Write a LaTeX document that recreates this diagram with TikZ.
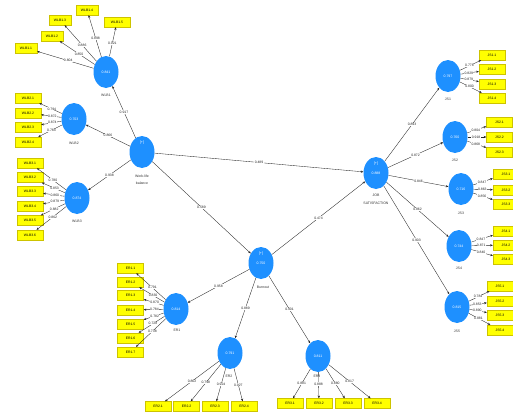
\documentclass[tikz,border=0pt]{standalone}
\usepackage{fontspec}
\setmainfont{Liberation Sans}
\usetikzlibrary{shapes.geometric,arrows.meta}
\definecolor{lvblue}{RGB}{30,144,255}
\definecolor{indy}{RGB}{255,255,0}
\definecolor{indb}{RGB}{205,195,0}
\begin{document}
\begin{tikzpicture}[x=1pt,y=-1pt,
 lv/.style={ellipse, fill=lvblue, minimum width=25pt, minimum height=32pt, inner sep=0pt, text=white, font=\fontsize{3.5}{4}\selectfont},
 lvt/.style={text=white, inner sep=0pt, font=\fontsize{3.5}{4}\selectfont},
 ind/.style={rectangle, fill=indy, draw=indb, line width=0.4pt, minimum width=26pt, minimum height=10pt, inner sep=0pt, font=\fontsize{3.4}{4}\selectfont},
 indsm/.style={ind, minimum width=22pt},
 lbl/.style={inner sep=0pt, font=\fontsize{3.5}{4}\selectfont, text=black!80},
 arr/.style={-{Stealth[length=2.6pt,width=2.2pt]}, line width=0.35pt, draw=black!85},
 coef/.style={fill=white, inner sep=0.4pt, font=\fontsize{3.4}{4}\selectfont, text=black!85},
]
\useasboundingbox[fill=white] (0,0) rectangle (513,415);

% ---------- latent variables ----------
\node[lv] (wlb) at (142,152) {};
\node[lvt] at ([yshift=9pt]wlb.center) {[+]};
\node[lbl] (wlbl) at (142,176) {Work-life};
\node[lbl] (wlbl2) at (142,183) {balance};

\node[lv] (wlb1) at (106,72) {0.841};
\node[lbl] (wlb1l) at (106,95) {WLB1};
\node[lv] (wlb2) at (74,119) {0.703};
\node[lbl] (wlb2l) at (74,143) {WLB2};
\node[lv] (wlb3) at (77,198) {0.874};
\node[lbl] (wlb3l) at (77,221) {WLB3};

\node[lv] (js) at (376,173) {0.888};
\node[lvt] at ([yshift=9pt]js.center) {[+]};
\node[lbl] (jsl) at (376,195.5) {JOB};
\node[lbl] (jsl2) at (376,203) {SATISFACTION};

\node[lv] (js1) at (448,76) {0.797};
\node[lbl] (js1l) at (448,99) {JS1};
\node[lv] (js2) at (455,137) {0.760};
\node[lbl] (js2l) at (455,160) {JS2};
\node[lv] (js3) at (461,189) {0.716};
\node[lbl] (js3l) at (461,213) {JS3};
\node[lv] (js4) at (459,246) {0.744};
\node[lbl] (js4l) at (459,268) {JS4};
\node[lv] (js5) at (457,307) {0.815};
\node[lbl] (js5l) at (457,331) {JS5};

\node[lv] (bo) at (261,263) {0.750};
\node[lvt] at ([yshift=9pt]bo.center) {[+]};
\node[lbl] (bol) at (263,287) {Burnout};

\node[lv] (er1) at (176,309) {0.814};
\node[lbl] (er1l) at (177,330) {ER1};
\node[lv] (er2) at (230,353) {0.791};
\node[lbl] (er2l) at (229,376) {ER2};
\node[lv] (er3) at (318,356) {0.811};
\node[lbl] (er3l) at (317,376) {ER3};

% ---------- indicators ----------
\node[indsm] (w11) at (26,48) {WLB1.1};
\node[indsm] (w12) at (52,36) {WLB1.2};
\node[indsm] (w13) at (60,20) {WLB1.3};
\node[indsm] (w14) at (87,10) {WLB1.4};
\node[ind] (w15) at (117,22) {WLB1.5};

\node[ind] (w21) at (28,98) {WLB2.1};
\node[ind] (w22) at (28,113) {WLB2.2};
\node[ind] (w23) at (28,127) {WLB2.3};
\node[ind] (w24) at (28,142) {WLB2.4};

\node[ind] (w31) at (30,163) {WLB3.1};
\node[ind] (w32) at (30,177.5) {WLB3.2};
\node[ind] (w33) at (30,191.5) {WLB3.3};
\node[ind] (w34) at (30,206) {WLB3.4};
\node[ind] (w35) at (30,220.5) {WLB3.5};
\node[ind] (w36) at (30,235) {WLB3.6};

\node[ind] (j11) at (492,55) {JS1.1};
\node[ind] (j12) at (492,69.5) {JS1.2};
\node[ind] (j13) at (492,84) {JS1.3};
\node[ind] (j14) at (492,98) {JS1.4};

\node[ind] (j21) at (499.5,122) {JS2.1};
\node[ind] (j22) at (499.5,137) {JS2.2};
\node[ind] (j23) at (499.5,152) {JS2.3};

\node[ind] (j31) at (506,174) {JS3.1};
\node[ind] (j32) at (506,190) {JS3.2};
\node[ind] (j33) at (506,204) {JS3.3};

\node[ind] (j41) at (506,231) {JS4.1};
\node[ind] (j42) at (506,245) {JS4.2};
\node[ind] (j43) at (506,259.5) {JS4.3};

\node[ind] (j51) at (500,286) {JS5.1};
\node[ind] (j52) at (500,301) {JS5.2};
\node[ind] (j53) at (500,315) {JS5.3};
\node[ind] (j54) at (500,330) {JS5.4};

\node[ind] (e11) at (130.5,268) {ER1.1};
\node[ind] (e12) at (130.5,282) {ER1.2};
\node[ind] (e13) at (130.5,295.5) {ER1.3};
\node[ind] (e14) at (130.5,310) {ER1.4};
\node[ind] (e15) at (130.5,324) {ER1.5};
\node[ind] (e16) at (130.5,338) {ER1.6};
\node[ind] (e17) at (130.5,352) {ER1.7};

\node[ind] (e21) at (158,406.5) {ER2.1};
\node[ind] (e22) at (186.5,406.5) {ER2.2};
\node[ind] (e23) at (215,406.5) {ER2.3};
\node[ind] (e24) at (244,406.5) {ER2.4};

\node[ind] (e31) at (290,403.5) {ER3.1};
\node[ind] (e32) at (319,403.5) {ER3.2};
\node[ind] (e33) at (348,403.5) {ER3.3};
\node[ind] (e34) at (377,403.5) {ER3.4};

% ---------- structural paths ----------
\draw[arr] (wlb) -- node[coef] {0.917} (wlb1);
\draw[arr] (wlb) -- node[coef] {0.866} (wlb2);
\draw[arr] (wlb) -- node[coef] {0.938} (wlb3);
\draw[arr] (wlb) -- node[coef] {0.489} (js);
\draw[arr] (wlb) -- node[coef] {0.589} (bo);
\draw[arr] (bo) -- node[coef] {0.474} (js);
\draw[arr] (bo) -- node[coef] {0.958} (er1);
\draw[arr] (bo) -- node[coef] {0.889} (er2);
\draw[arr] (bo) -- node[coef] {0.901} (er3);
\draw[arr] (js) -- node[coef] {0.893} (js1);
\draw[arr] (js) -- node[coef] {0.872} (js2);
\draw[arr] (js) -- node[coef] {0.846} (js3);
\draw[arr] (js) -- node[coef] {0.862} (js4);
\draw[arr] (js) -- node[coef] {0.903} (js5);

% ---------- loadings ----------
\draw[arr] (wlb1) -- node[coef,pos=0.45] {0.804} (w11);
\draw[arr] (wlb1) -- node[coef,pos=0.45] {0.850} (w12);
\draw[arr] (wlb1) -- node[coef,pos=0.45] {0.886} (w13);
\draw[arr] (wlb1) -- node[coef,pos=0.45] {0.898} (w14);
\draw[arr] (wlb1) -- node[coef,pos=0.45] {0.921} (w15);

\draw[arr] (wlb2) -- node[coef,pos=0.45] {0.794} (w21);
\draw[arr] (wlb2) -- node[coef,pos=0.45] {0.872} (w22);
\draw[arr] (wlb2) -- node[coef,pos=0.45] {0.874} (w23);
\draw[arr] (wlb2) -- node[coef,pos=0.45] {0.784} (w24);

\draw[arr] (wlb3) -- node[coef,pos=0.45] {0.780} (w31);
\draw[arr] (wlb3) -- node[coef,pos=0.45] {0.853} (w32);
\draw[arr] (wlb3) -- node[coef,pos=0.45] {0.860} (w33);
\draw[arr] (wlb3) -- node[coef,pos=0.45] {0.879} (w34);
\draw[arr] (wlb3) -- node[coef,pos=0.45] {0.882} (w35);
\draw[arr] (wlb3) -- node[coef,pos=0.45] {0.862} (w36);

\draw[arr] (js1) -- node[coef,pos=0.45] {0.778} (j11);
\draw[arr] (js1) -- node[coef,pos=0.45] {0.829} (j12);
\draw[arr] (js1) -- node[coef,pos=0.45] {0.879} (j13);
\draw[arr] (js1) -- node[coef,pos=0.45] {0.800} (j14);

\draw[arr] (js2) -- node[coef,pos=0.45] {0.804} (j21);
\draw[arr] (js2) -- node[coef,pos=0.45] {0.918} (j22);
\draw[arr] (js2) -- node[coef,pos=0.45] {0.868} (j23);

\draw[arr] (js3) -- node[coef,pos=0.45] {0.847} (j31);
\draw[arr] (js3) -- node[coef,pos=0.45] {0.863} (j32);
\draw[arr] (js3) -- node[coef,pos=0.45] {0.856} (j33);

\draw[arr] (js4) -- node[coef,pos=0.45] {0.847} (j41);
\draw[arr] (js4) -- node[coef,pos=0.45] {0.871} (j42);
\draw[arr] (js4) -- node[coef,pos=0.45] {0.840} (j43);

\draw[arr] (js5) -- node[coef,pos=0.45] {0.784} (j51);
\draw[arr] (js5) -- node[coef,pos=0.45] {0.853} (j52);
\draw[arr] (js5) -- node[coef,pos=0.45] {0.890} (j53);
\draw[arr] (js5) -- node[coef,pos=0.45] {0.881} (j54);

\draw[arr] (er1) -- node[coef,pos=0.45] {0.791} (e11);
\draw[arr] (er1) -- node[coef,pos=0.45] {0.830} (e12);
\draw[arr] (er1) -- node[coef,pos=0.45] {0.870} (e13);
\draw[arr] (er1) -- node[coef,pos=0.45] {0.784} (e14);
\draw[arr] (er1) -- node[coef,pos=0.45] {0.782} (e15);
\draw[arr] (er1) -- node[coef,pos=0.45] {0.728} (e16);
\draw[arr] (er1) -- node[coef,pos=0.45] {0.738} (e17);

\draw[arr] (er2) -- node[coef,pos=0.5] {0.862} (e21);
\draw[arr] (er2) -- node[coef,pos=0.5] {0.798} (e22);
\draw[arr] (er2) -- node[coef,pos=0.5] {0.924} (e23);
\draw[arr] (er2) -- node[coef,pos=0.5] {0.927} (e24);

\draw[arr] (er3) -- node[coef,pos=0.5] {0.881} (e31);
\draw[arr] (er3) -- node[coef,pos=0.45] {0.888} (e32);
\draw[arr] (er3) -- node[coef,pos=0.5] {0.880} (e33);
\draw[arr] (er3) -- node[coef,pos=0.5] {0.817} (e34);
\end{tikzpicture}
\end{document}
